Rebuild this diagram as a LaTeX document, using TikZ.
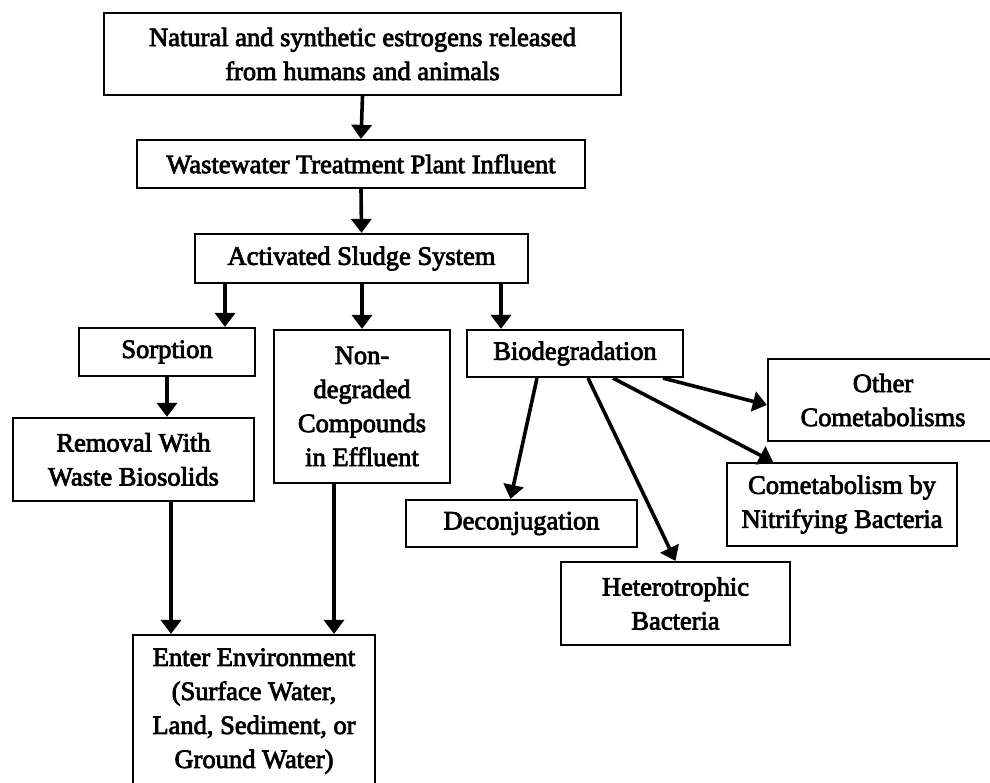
\documentclass[tikz,border=0pt]{standalone}
\usepackage{fontspec}
\setmainfont{Liberation Serif}
\newfontfamily\boxfont{Liberation Serif}[FakeBold=3]
\usetikzlibrary{arrows.meta}
\begin{document}
\begin{tikzpicture}[x=1pt,y=-1pt,
  box/.style={draw=black,line width=2.2pt,inner sep=0pt,align=center,
    font=\boxfont\fontsize{26.5}{34}\selectfont},
  arr/.style={draw=black,line width=3.6pt,-{Triangle[length=14pt,width=20pt]}}]
\useasboundingbox[fill=white] (0,0) rectangle (990,783);
\node[box,minimum width=517pt,minimum height=82pt] (n1) at (362.5,54) {Natural and synthetic estrogens released\\from humans and animals};
\node[box,minimum width=448pt,minimum height=48pt] (n2) at (361,164) {Wastewater Treatment Plant Influent};
\node[box,minimum width=333pt,minimum height=49pt] (n3) at (361.5,258.5) {Activated Sludge System};
\node[box,minimum width=176pt,minimum height=48pt] (sorp) at (167,352) {Sorption};
\node[box,minimum width=176pt,minimum height=153pt] (nondeg) at (362,406.5) {Non-\\degraded\\Compounds\\in Effluent};
\node[box,minimum width=216pt,minimum height=47pt] (bio) at (575,353.5) {Biodegradation};
\node[box,minimum width=241pt,minimum height=83pt] (removal) at (133.5,459.5) {Removal With\\Waste Biosolids};
\node[box,minimum width=230pt,minimum height=82pt] (other) at (883,400) {Other\\Cometabolisms};
\node[box,minimum width=230pt,minimum height=83pt] (nitr) at (842,504.5) {Cometabolism by\\Nitrifying Bacteria};
\node[box,minimum width=231pt,minimum height=47pt] (deconj) at (521.5,523.5) {Deconjugation};
\node[box,minimum width=229pt,minimum height=83pt] (hetero) at (675.5,603.5) {Heterotrophic\\Bacteria};
\node[box,minimum width=242pt,minimum height=152pt] (enter) at (254,711) {Enter Environment\\(Surface Water,\\Land, Sediment, or\\Ground Water)};
\draw[arr] (n1.south) -- (n2.north);
\draw[arr] (n2.south) -- (n3.north);
\draw[arr] ([xshift=-136.5]n3.south) -- ([xshift=-136.5]n3.south |- sorp.north);
\draw[arr] (n3.south -| nondeg.north) -- (nondeg.north);
\draw[arr] ([xshift=-74]bio.north |- n3.south) -- ([xshift=-74]bio.north);
\draw[arr] (sorp.south) -- (sorp.south |- removal.north);
\draw[arr] ([xshift=37.5]removal.south) -- ([xshift=37.5]removal.south |- enter.north);
\draw[arr] ([xshift=-28]nondeg.south) -- ([xshift=-28]nondeg.south |- enter.north);
\draw[arr] ([xshift=-38]bio.south) -- ([xshift=-11]deconj.north);
\draw[arr] ([xshift=13]bio.south) -- (hetero.north);
\draw[arr] ([xshift=38]bio.south) -- ([xshift=-69]nitr.north);
\draw[arr] ([xshift=88]bio.south) -- ([yshift=-5]other.west);
\end{tikzpicture}
\end{document}
